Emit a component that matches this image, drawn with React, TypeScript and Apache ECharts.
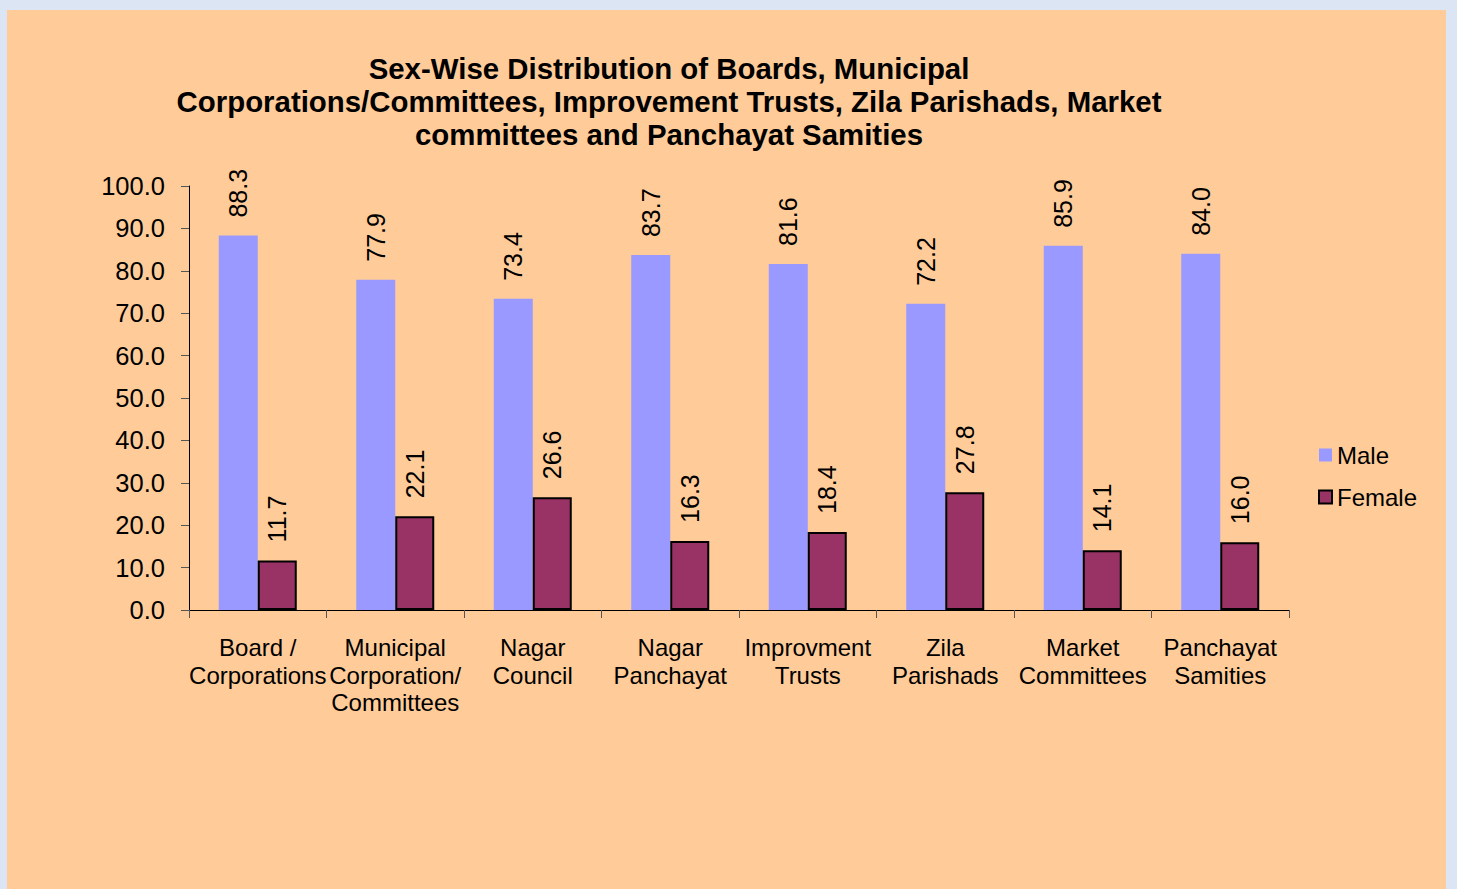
import React, { useEffect, useRef } from "react";
import * as echarts from "echarts";

const categories = [
  "Board /\nCorporations",
  "Municipal\nCorporation/\nCommittees",
  "Nagar\nCouncil",
  "Nagar\nPanchayat",
  "Improvment\nTrusts",
  "Zila\nParishads",
  "Market\nCommittees",
  "Panchayat\nSamities",
];
const maleValues = [88.3, 77.9, 73.4, 83.7, 81.6, 72.2, 85.9, 84.0];
const femaleValues = [11.7, 22.1, 26.6, 16.3, 18.4, 27.8, 14.1, 16.0];
const titleText =
  "Sex-Wise Distribution of Boards, Municipal\nCorporations/Committees, Improvement Trusts, Zila Parishads, Market\ncommittees and Panchayat Samities";

const FONT = "'Liberation Sans', Arial, sans-serif";

export default function App() {
  const ref = useRef<HTMLDivElement>(null);
  useEffect(() => {
    if (!ref.current) return;
    const chart = echarts.init(ref.current, undefined, { renderer: "svg" });
    const labelCfg = {
      show: true,
      position: "top" as const,
      rotate: 90,
      align: "left" as const,
      verticalAlign: "middle" as const,
      distance: 18,
      fontSize: 25,
      fontFamily: FONT,
      color: "#000",
      formatter: (p: any) => Number(p.value).toFixed(1),
    };
    chart.setOption({
      animation: false,
      backgroundColor: "#ffcc99",
      textStyle: { fontFamily: FONT },
      title: {
        text: titleText,
        left: 657,
        textAlign: "center",
        top: 37,
        textStyle: {
          fontSize: 29.4,
          fontWeight: "bold",
          fontFamily: FONT,
          color: "#000",
          lineHeight: 33,
        },
      },
      legend: {
        orient: "vertical",
        left: 1306,
        top: 428,
        itemWidth: 13,
        itemHeight: 13,
        itemGap: 18,
        textStyle: { fontSize: 24, fontFamily: FONT, color: "#000" },
        data: [
          { name: "Male", icon: "rect" },
          { name: "Female", icon: "rect" },
        ],
      },
      grid: { left: 182, top: 176, width: 1100, height: 424 },
      xAxis: {
        type: "category",
        data: categories,
        axisLine: { lineStyle: { color: "#000", width: 1 } },
        axisTick: { show: true, length: 8, lineStyle: { color: "#555" } },
        axisLabel: {
          interval: 0,
          margin: 24,
          fontSize: 24,
          lineHeight: 27.5,
          fontFamily: FONT,
          color: "#000",
        },
      },
      yAxis: {
        type: "value",
        min: 0,
        max: 100,
        interval: 10,
        axisLine: { show: true, lineStyle: { color: "#000", width: 1 } },
        axisTick: { show: true, length: 8, lineStyle: { color: "#555" } },
        splitLine: { show: false },
        axisLabel: {
          margin: 24,
          fontSize: 25.5,
          fontFamily: FONT,
          color: "#000",
          formatter: (v: number) => v.toFixed(1),
        },
      },
      series: [
        {
          name: "Male",
          type: "bar",
          data: maleValues,
          barWidth: 39,
          barGap: "0%",
          itemStyle: { color: "#9999ff" },
          label: labelCfg,
        },
        {
          name: "Female",
          type: "bar",
          data: femaleValues,
          barWidth: 39,
          barGap: "0%",
          itemStyle: { color: "#993366", borderColor: "#000", borderWidth: 2 },
          label: labelCfg,
        },
      ],
    });
    return () => chart.dispose();
  }, []);
  return (
    <div
      style={{
        position: "fixed",
        left: 0,
        top: 0,
        width: 1457,
        height: 889,
        background: "#dbe5f3",
      }}
    >
      <div
        ref={ref}
        style={{ position: "absolute", left: 7, top: 10, width: 1439, height: 879 }}
      />
    </div>
  );
}
